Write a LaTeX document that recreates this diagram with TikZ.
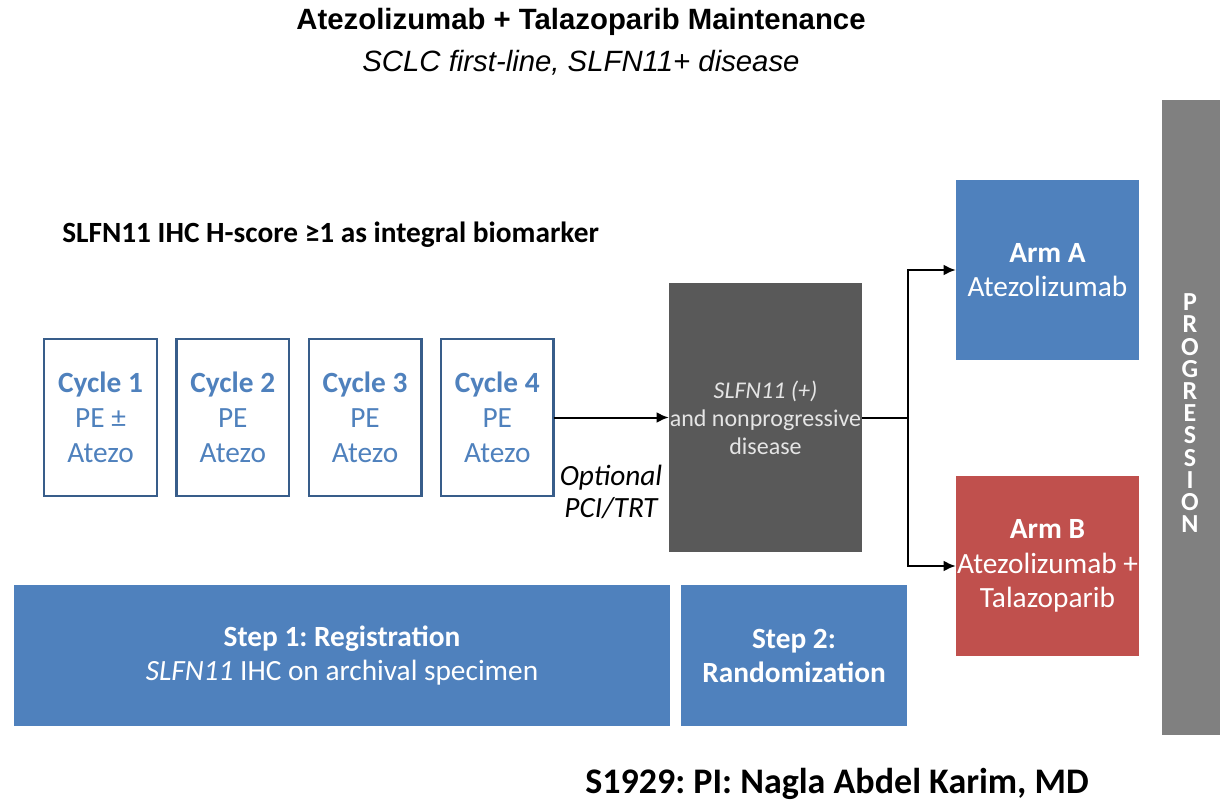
\documentclass[tikz,border=0pt]{standalone}
\usepackage{fontspec}
\setmainfont{Carlito}
\newfontfamily\titlefont{Liberation Sans}
\usetikzlibrary{arrows.meta, positioning}
\frenchspacing

\definecolor{accblue}{HTML}{4F81BD}
\definecolor{darkblue}{HTML}{385D8A}
\definecolor{accred}{HTML}{C0504D}
\definecolor{darkgray}{HTML}{595959}
\definecolor{midgray}{HTML}{808080}

\tikzset{
    cyclebox/.style={draw=darkblue, line width=1.8pt, fill=white, text=accblue, inner sep=0pt, outer sep=0pt,
        minimum width=84.5pt, minimum height=117.5pt, align=center,
        font=\fontsize{22}{26.25}\selectfont},
    armbox/.style={inner sep=0pt, minimum width=137.25pt, minimum height=135pt, align=center,
        text=white, font=\fontsize{22}{26}\selectfont},
    stepbox/.style={fill=accblue, inner sep=0pt, minimum height=105.75pt, align=center,
        text=white, font=\fontsize{22}{25.5}\selectfont},
    progletter/.style={text=white, inner sep=0pt, text height=0.64em, text depth=0pt,
        font=\bfseries\fontsize{19.5}{20}\selectfont},
    flow/.style={-{Latex[length=9pt, width=8pt]}, line width=1.5pt}
}

\begin{document}
\begin{tikzpicture}[x=0.75pt, y=-0.75pt]
    \useasboundingbox (0,0) rectangle (1220,802);

    % Titles
    \node[font=\titlefont\bfseries\fontsize{22}{26}\selectfont] (title) at (581,22) {Atezolizumab + Talazoparib Maintenance};
    \node[font=\titlefont\itshape\fontsize{22}{26}\selectfont] (subtitle) at (581,63) {SCLC first-line, SLFN11+ disease};
    \node[anchor=west, inner sep=0pt, font=\bfseries\fontsize{22}{26}\selectfont] (biomarker) at (62,235) {SLFN11 IHC H-score ≥1 as integral biomarker};

    % Induction cycles
    \node[cyclebox] (cyc1) at (100.5,417.5) {\textbf{Cycle 1}\\PE ±\\Atezo};
    \node[cyclebox, right=14.7pt of cyc1] (cyc2) {\textbf{Cycle 2}\\PE\\Atezo};
    \node[cyclebox, right=14.7pt of cyc2] (cyc3) {\textbf{Cycle 3}\\PE\\Atezo};
    \node[cyclebox, right=14.7pt of cyc3] (cyc4) {\textbf{Cycle 4}\\PE\\Atezo};

    % Eligibility box
    \node[fill=darkgray, inner sep=0pt, minimum width=144.75pt, minimum height=201.75pt, align=center,
          text=white!90!black, font=\fontsize{18}{21}\selectfont] (elig) at (765.5,417.5)
          {\textit{SLFN11 (+)}\\and nonprogressive\\disease};
    \node[align=center, font=\itshape\fontsize{22}{24}\selectfont] (optional) at (611,492) {Optional\\PCI/TRT};

    % Arms
    \node[armbox, fill=accblue] (armA) at (1047.5,270) {\textbf{Arm A}\\Atezolizumab};
    \node[armbox, fill=accred] (armB) at (1047.5,566) {\textbf{Arm B}\\Atezolizumab +\\Talazoparib};

    % Progression bar
    \node[fill=midgray, inner sep=0pt, minimum width=43.5pt, minimum height=476.25pt] (prog) at (1191,417.5) {};
    \foreach \ch [count=\i] in {P,R,O,G,R,E,S,S,I,O,N}
        \node[progletter] (prog-\i) at (1190,306.5+22.2*\i-22.2) {\ch};

    % Steps
    \node[stepbox, minimum width=492pt] (step1) at (342,655.5) {\textbf{Step 1: Registration}\\\textit{SLFN11} IHC on archival specimen};
    \node[stepbox, minimum width=169.5pt] (step2) at (794,655.5) {\textbf{Step 2:}\\\textbf{Randomization}};

    % Footer
    \node[anchor=base, font=\bfseries\fontsize{27}{30}\selectfont] (footer) at (837,793) {S1929: PI: Nagla Abdel Karim, MD};

    % Connectors
    \coordinate (split) at (908,417.5);
    \draw[flow] (cyc4) -- (elig);
    \draw[line width=1.5pt] (elig) -- (split);
    \draw[flow] (split) |- (armA.west);
    \draw[flow] (split) |- (armB.west);
\end{tikzpicture}
\end{document}
